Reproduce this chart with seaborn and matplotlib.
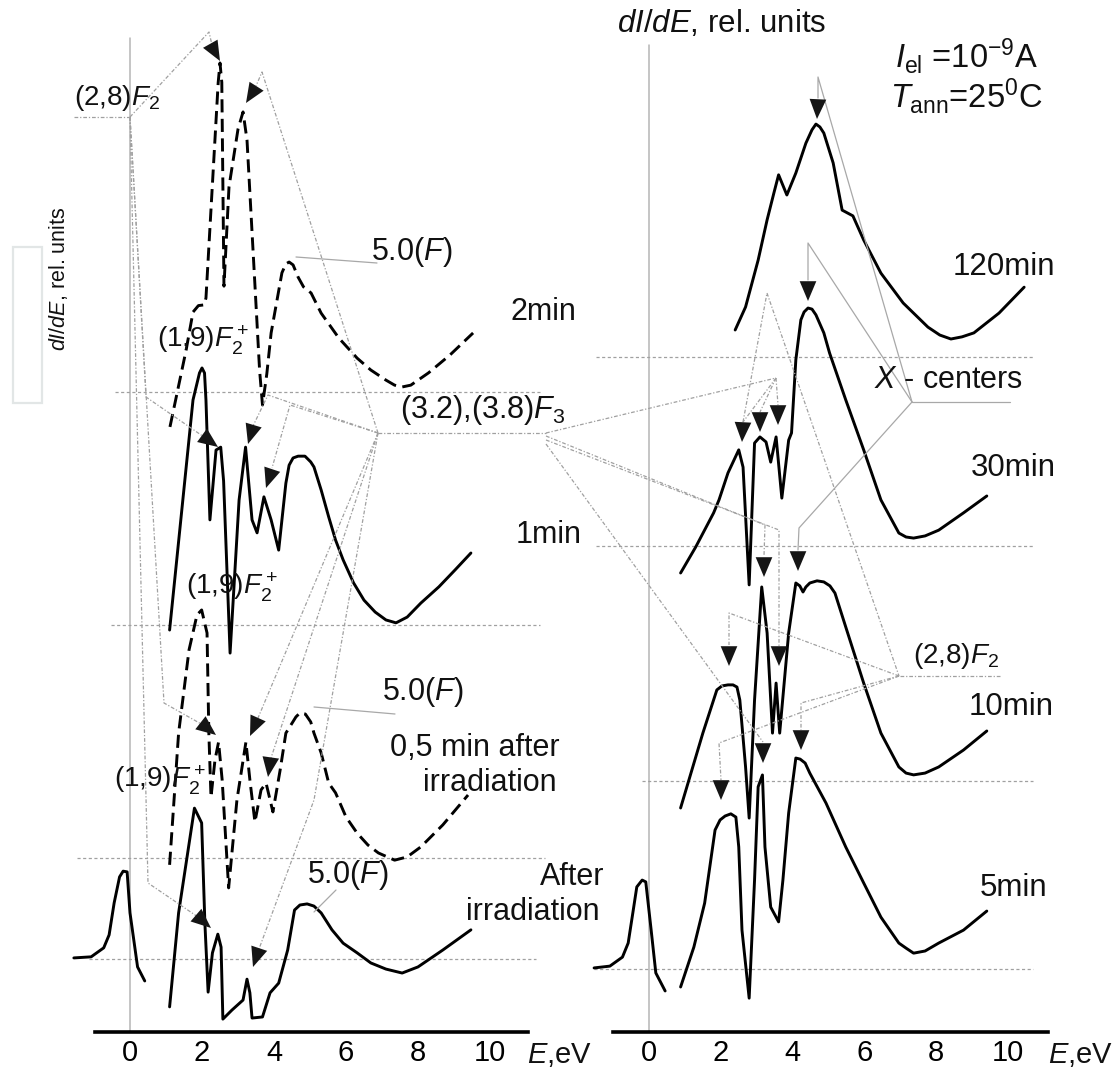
import numpy as np
import pandas as pd
import seaborn as sns
import matplotlib.pyplot as plt
import matplotlib.transforms as mtransforms
from matplotlib.lines import Line2D
from matplotlib.patches import FancyArrowPatch, Rectangle

# ---- data: dI/dE (rel. units, measured from each curve's dotted baseline) vs E (eV)
# left panel
E_2min = [1.11, 1.56, 1.75, 1.90, 2.06, 2.11, 2.45, 2.50, 2.55, 2.61, 2.75, 3.00, 3.14, 3.25, 3.60,
          3.68, 3.80, 3.92, 4.22, 4.33, 4.42, 4.53, 4.67, 4.82, 5.03, 5.31, 5.80, 6.31, 6.69, 7.11,
          7.35, 7.56, 7.80, 8.29, 8.89, 9.53]
I_2min = [-0.97, 1.17, 2.22, 2.40, 2.42, 2.61, 8.6, 9.14, 8.6, 2.94, 5.7, 7.3, 7.78, 7.0, 0.6,
          -0.36, 0.5, 1.64, 3.31, 3.56, 3.61, 3.53, 3.19, 2.92, 2.75, 2.19, 1.5, 0.94, 0.61, 0.33,
          0.19, 0.14, 0.19, 0.53, 1.03, 1.64]

E_1min = [1.10, 1.75, 1.93, 2.00, 2.07, 2.11, 2.22, 2.39, 2.52, 2.60, 2.78, 3.03, 3.21, 3.39, 3.53,
          3.72, 3.92, 4.13, 4.33, 4.42, 4.53, 4.67, 4.86, 5.02, 5.11, 5.31, 5.52, 5.71, 5.92, 6.21,
          6.50, 6.81, 7.11, 7.39, 7.70, 8.08, 8.58, 9.03, 9.47]
I_1min = [-0.14, 6.25, 7.0, 7.14, 7.0, 6.25, 2.92, 4.86, 4.94, 4.0, -0.78, 3.47, 4.94, 2.92, 2.56,
          3.56, 2.92, 2.08, 3.94, 4.44, 4.64, 4.69, 4.69, 4.53, 4.39, 3.75, 3.0, 2.36, 1.81, 1.17,
          0.69, 0.36, 0.14, 0.06, 0.22, 0.61, 1.06, 1.53, 2.0]

E_05min = [1.10, 1.35, 1.64, 1.86, 1.99, 2.14, 2.19, 2.25, 2.36, 2.46, 2.56, 2.74, 2.97, 3.22, 3.33,
           3.47, 3.64, 3.78, 3.97, 4.17, 4.33, 4.61, 4.72, 4.87, 5.02, 5.11, 5.31, 5.52, 5.71, 6.00,
           6.31, 6.61, 6.90, 7.35, 7.70, 8.08, 8.69, 9.39]
I_05min = [-0.19, 3.47, 5.78, 6.75, 6.89, 6.25, 3.47, 1.69, 2.72, 3.22, 2.17, -0.83, 1.61, 3.22, 2.17,
           1.0, 1.89, 2.08, 1.28, 2.44, 3.47, 3.92, 4.03, 4.0, 3.78, 3.47, 2.92, 2.08, 1.81, 1.14,
           0.69, 0.36, 0.14, -0.06, 0.03, 0.31, 0.92, 1.75]

E_after_a = [-1.56, -1.08, -0.73, -0.58, -0.44, -0.29, -0.19, -0.08, 0.00, 0.21, 0.41]
I_after_a = [0.03, 0.06, 0.31, 0.67, 1.56, 2.28, 2.44, 2.42, 1.28, -0.22, -0.61]
E_after_b = [1.10, 1.35, 1.79, 1.99, 2.08, 2.17, 2.29, 2.44, 2.53, 2.58, 2.83, 3.14, 3.25, 3.33,
             3.39, 3.68, 3.89, 4.13, 4.38, 4.57, 4.72, 4.92, 5.11, 5.31, 5.61, 5.92, 6.31, 6.69,
             7.11, 7.56, 8.00, 8.69, 9.47]
I_after_b = [-1.33, 1.28, 4.19, 3.78, 1.0, -0.92, 0.17, 0.69, 0.33, -1.67, -1.42, -1.14, -0.56, -0.94,
             -1.64, -1.61, -0.94, -0.67, 0.25, 1.36, 1.50, 1.53, 1.47, 1.28, 0.81, 0.44, 0.17, -0.11,
             -0.28, -0.39, -0.22, 0.25, 0.81]

# right panel
E_120min = [2.40, 2.69, 3.04, 3.29, 3.48, 3.61, 3.84, 4.09, 4.37, 4.54, 4.65, 4.76, 4.87, 5.13,
            5.38, 5.68, 5.98, 6.46, 7.08, 7.77, 8.10, 8.41, 8.72, 9.05, 9.75, 10.45]
I_120min = [0.75, 1.39, 2.69, 3.81, 4.56, 5.06, 4.50, 5.11, 5.94, 6.31, 6.47, 6.39, 6.22, 5.39,
            4.08, 3.92, 3.25, 2.33, 1.50, 0.83, 0.61, 0.50, 0.56, 0.67, 1.22, 1.94]

E_30min = [0.88, 1.30, 1.80, 1.95, 2.20, 2.50, 2.62, 2.79, 2.94, 3.09, 3.26, 3.39, 3.54, 3.70, 3.89,
           3.97, 4.09, 4.23, 4.32, 4.43, 4.54, 4.65, 4.87, 5.03, 5.48, 5.98, 6.46, 6.96, 7.16, 7.37,
           7.69, 8.07, 8.76, 9.41]
I_30min = [-0.75, -0.03, 0.92, 1.28, 2.03, 2.67, 2.19, -1.08, 2.86, 3.03, 2.89, 2.33, 3.03, 1.33, 2.94,
           3.14, 5.17, 6.28, 6.50, 6.61, 6.58, 6.42, 5.92, 5.36, 4.06, 2.67, 1.28, 0.36, 0.25, 0.22,
           0.28, 0.44, 0.92, 1.39]

E_10min = [0.88, 1.50, 1.89, 2.03, 2.20, 2.34, 2.45, 2.53, 2.69, 2.79, 2.94, 3.14, 3.29, 3.44, 3.54,
           3.64, 3.89, 4.09, 4.20, 4.29, 4.37, 4.48, 4.68, 4.87, 5.04, 5.18, 5.48, 5.98, 6.46, 6.96,
           7.16, 7.37, 7.69, 8.07, 8.76, 9.41]
I_10min = [-0.75, 1.33, 2.53, 2.64, 2.67, 2.67, 2.61, 2.25, 0.39, -1.03, 2.25, 5.39, 4.11, 1.33, 2.72,
           1.33, 4.11, 5.50, 5.42, 5.25, 5.39, 5.50, 5.56, 5.53, 5.42, 5.22, 4.28, 2.72, 1.33, 0.39,
           0.22, 0.17, 0.22, 0.39, 0.86, 1.39]

E_5min_a = [-1.53, -1.09, -0.74, -0.58, -0.45, -0.34, -0.19, -0.09, 0.06, 0.19, 0.45]
I_5min_a = [0.03, 0.08, 0.33, 0.72, 1.56, 2.28, 2.47, 2.42, 1.08, -0.11, -0.61]
E_5min_b = [0.88, 1.25, 1.55, 1.84, 1.98, 2.12, 2.28, 2.42, 2.50, 2.59, 2.79, 2.94, 3.04, 3.16, 3.23,
            3.39, 3.61, 3.73, 3.89, 4.09, 4.21, 4.35, 4.48, 4.93, 5.48, 5.98, 6.46, 6.96, 7.16, 7.37,
            7.69, 8.07, 8.76, 9.41]
I_5min_b = [-0.5, 0.61, 1.83, 3.86, 4.14, 4.25, 4.31, 4.22, 3.39, 1.08, -0.81, 2.47, 5.06, 5.39, 3.39,
            1.72, 1.31, 2.47, 4.33, 5.86, 5.83, 5.72, 5.44, 4.61, 3.39, 2.39, 1.44, 0.72, 0.58, 0.44,
            0.50, 0.72, 1.08, 1.61]

E_ticks = list(range(0, 11))
tick_labels = [str(t) if t % 2 == 0 else "" for t in E_ticks]

# ---- layout (pixels of the 1114x1075 canvas)
W, H = 1114, 1075
AXIS_Y = 1032
UNIT = 36.0  # px per rel. unit


def base(py):
    return (AXIS_Y - py) / UNIT


sns.set_style("white")
plt.rcParams['font.family'] = ['Liberation Sans', 'DejaVu Sans']
plt.rcParams['mathtext.fontset'] = 'custom'
plt.rcParams['mathtext.rm'] = 'Liberation Sans'
plt.rcParams['mathtext.it'] = 'Liberation Sans:italic'
plt.rcParams['mathtext.bf'] = 'Liberation Sans:bold'

fig = plt.figure(figsize=(W / 100, H / 100), dpi=100)
px = mtransforms.Affine2D().scale(1, -1).translate(0, H)

ax_l = fig.add_axes([60 / W, (H - AXIS_Y) / H, 500 / W, AXIS_Y / H])
ax_r = fig.add_axes([580 / W, (H - AXIS_Y) / H, 534 / W, AXIS_Y / H])
ax_l.set_xlim((60 - 130) / 36.0, (560 - 130) / 36.0)
ax_r.set_xlim((580 - 649) / 35.9, (1114 - 649) / 35.9)

for ax, bounds, vtop in [(ax_l, (-0.97, 11.06), 38), (ax_r, (-1.0, 11.11), 45)]:
    ax.set_ylim(0, AXIS_Y / UNIT)
    ax.patch.set_alpha(0)
    for s in ['left', 'right', 'top']:
        ax.spines[s].set_visible(False)
    ax.spines['bottom'].set_linewidth(2.6)
    ax.spines['bottom'].set_color('black')
    ax.spines['bottom'].set_bounds(*bounds)
    ax.set_xticks(E_ticks)
    ax.set_xticklabels(tick_labels)
    ax.set_yticks([])
    ax.tick_params(axis='x', direction='in', length=4, width=1.6, pad=5, labelsize=21, colors='black')
    ax.plot([0, 0], [0, base(vtop)], color='#b5b5b5', lw=1.1, zorder=1)

dotted = dict(color='#a0a0a0', lw=0.9, ls=(0, (2.5, 2)), zorder=1)

# baselines
left_bases = {'2min': 392, '1min': 625, '05min': 858, 'after': 959}
right_bases = {'120min': 357, '30min': 546, '10min': 781, '5min': 969}
for key, (x0, x1) in {'2min': (-0.42, 11.39), '1min': (-0.53, 11.39), '05min': (-1.47, 11.53),
                      'after': (-1.14, 11.28)}.items():
    ax_l.hlines(base(left_bases[key]), x0, x1, **dotted)
for key, (x0, x1) in {'120min': (-1.48, 10.7), '30min': (-1.48, 10.7), '10min': (-0.2, 10.7),
                      '5min': (-1.53, 10.7)}.items():
    ax_r.hlines(base(right_bases[key]), x0, x1, **dotted)


def curve(ax, E, I, py, dashed=False):
    y = np.array(I) + base(py)
    df = pd.DataFrame({'E': E, 'dIdE': y})
    ls = (0, (4.5, 2.2)) if dashed else '-'
    sns.lineplot(data=df, x='E', y='dIdE', ax=ax, sort=False, estimator=None,
                 color='black', lw=2.1, linestyle=ls, zorder=3)


curve(ax_l, E_2min, I_2min, left_bases['2min'], dashed=True)
curve(ax_l, E_1min, I_1min, left_bases['1min'])
curve(ax_l, E_05min, I_05min, left_bases['05min'], dashed=True)
curve(ax_l, E_after_a, I_after_a, left_bases['after'])
curve(ax_l, E_after_b, I_after_b, left_bases['after'])
curve(ax_r, E_120min, I_120min, right_bases['120min'])
curve(ax_r, E_30min, I_30min, right_bases['30min'])
curve(ax_r, E_10min, I_10min, right_bases['10min'])
curve(ax_r, E_5min_a, I_5min_a, right_bases['5min'])
curve(ax_r, E_5min_b, I_5min_b, right_bases['5min'])

for ax in (ax_l, ax_r):
    ax.set_xlabel('')
    ax.set_ylabel('')


# ---- leader lines and arrow heads (pixel coordinates)
def leader(pts, solid=False):
    xs, ys = zip(*pts)
    if solid:
        fig.add_artist(Line2D(xs, ys, transform=px, color='#a8a8a8', lw=0.9, zorder=1))
    else:
        fig.add_artist(Line2D(xs, ys, transform=px, color='#a0a0a0', lw=0.9,
                              ls=(0, (3, 1.5, 1, 1.5)), zorder=1))


def head(b, t):
    fig.add_artist(FancyArrowPatch(b, t, transform=px, arrowstyle='-|>,head_length=0.95,head_width=0.4',
                                   mutation_scale=15, color='#151515', lw=0, shrinkA=0, shrinkB=0, zorder=5))


# left panel
leader([(74, 117), (130, 117)])
leader([(130, 117), (209, 32), (212, 45)]); head((211, 45), (220, 61))
leader([(130, 117), (146, 397), (204, 437)]); head((203, 436), (218, 447))
leader([(130, 117), (164, 703), (203, 725)]); head((202, 724), (216, 735))
leader([(130, 117), (148, 883), (198, 917)]); head((197, 916), (211, 928))
hub = (378, 433)
leader([hub, (262, 72), (256, 86)]); head((258, 84), (246, 103))
leader([hub, (268, 395), (253, 426)]); head((254, 424), (248, 444))
leader([hub, (290, 405), (272, 468)]); head((273, 467), (266, 488))
leader([hub, (258, 718)]); head((259, 716), (250, 736))
leader([hub, (271, 758)]); head((271, 756), (268, 777))
leader([hub, (314, 800), (259, 949)]); head((260, 946), (253, 967))
leader([hub, (546, 433)])
leader([(296, 257), (377, 263)], solid=True)
leader([(314, 707), (395, 714)], solid=True)
leader([(314, 912), (336, 890)], solid=True)

# right panel
leader([(546, 433), (776, 378)])
leader([(776, 378), (743, 422)]); head((743, 422), (742, 442))
leader([(776, 378), (760, 412)]); head((760, 412), (760, 432))
leader([(776, 378), (778, 405)]); head((778, 405), (778, 425))
leader([(546, 436), (765, 525), (764, 556)]); head((764, 556), (764, 577))
leader([(546, 440), (779, 530), (779, 646)]); head((779, 646), (779, 666))
leader([(546, 444), (763, 742)]); head((763, 742), (763, 763))
leader([(1010, 402), (912, 402)], solid=True)
leader([(912, 402), (818, 77), (818, 98)], solid=True); head((818, 98), (817, 119))
leader([(912, 402), (808, 243), (808, 280)], solid=True); head((808, 280), (808, 301))
leader([(912, 402), (799, 528), (798, 550)], solid=True); head((798, 550), (798, 571))
leader([(1000, 676), (899, 676)])
leader([(899, 676), (729, 613), (729, 645)]); head((729, 645), (729, 666))
leader([(899, 676), (719, 743), (721, 780)]); head((721, 780), (721, 800))
leader([(899, 676), (801, 703), (801, 730)]); head((801, 730), (801, 750))
leader([(743, 422), (767, 293), (899, 676)])

# ---- texts
def txt(x, y, s, size=22, **kw):
    fig.text(x, y, s, transform=px, fontsize=size, color='#111111', va='center', ha='left', **kw)


txt(74, 98, r'(2,8)$\mathit{F}_2$', 20)
txt(157, 340, r'(1,9)$\mathit{F}_2^+$', 20)
txt(186, 587, r'(1,9)$\mathit{F}_2^+$', 20)
txt(114, 780, r'(1,9)$\mathit{F}_2^+$', 20)
txt(371, 252, r'5.0($\mathit{F}$)')
txt(382, 692, r'5.0($\mathit{F}$)')
txt(307, 875, r'5.0($\mathit{F}$)')
txt(400, 410, r'(3.2),(3.8)$\mathit{F}_3$')
txt(510, 312, '2min')
txt(516, 535, '1min')
txt(390, 748, '0,5 min after')
txt(423, 783, 'irradiation')
txt(540, 877, 'After')
txt(466, 912, 'irradiation')
txt(527, 1055, r'$\mathit{E}$,eV', 21)
fig.text(59, 279, r'$\mathit{dI/dE}$, rel. units', transform=px, fontsize=15.5, rotation=90,
         va='center', ha='center', color='#111111')
fig.add_artist(Rectangle((13 / W, (H - 403) / H), 29 / W, 156 / H, transform=fig.transFigure,
                         fill=False, ec='#e2e6e6', lw=1.6))

txt(617, 23, r'$\mathit{dI/dE}$, rel. units', 22.5)
txt(895, 56, r'$\mathit{I}_{\rm el}$ =10$^{-9}$A', 23.5)
txt(890, 96, r'$\mathit{T}_{\rm ann}$=25$^{0}$C', 23.5)
txt(953, 267, '120min', 22.5)
txt(874, 380, r'$\mathit{X}$ - centers', 22)
txt(971, 468, '30min', 22.5)
txt(913, 656, r'(2,8)$\mathit{F}_2$', 20)
txt(969, 707, '10min', 22.5)
txt(980, 888, '5min', 22.5)
txt(1048, 1055, r'$\mathit{E}$,eV', 21)

fig.savefig('out.png', dpi=100)
